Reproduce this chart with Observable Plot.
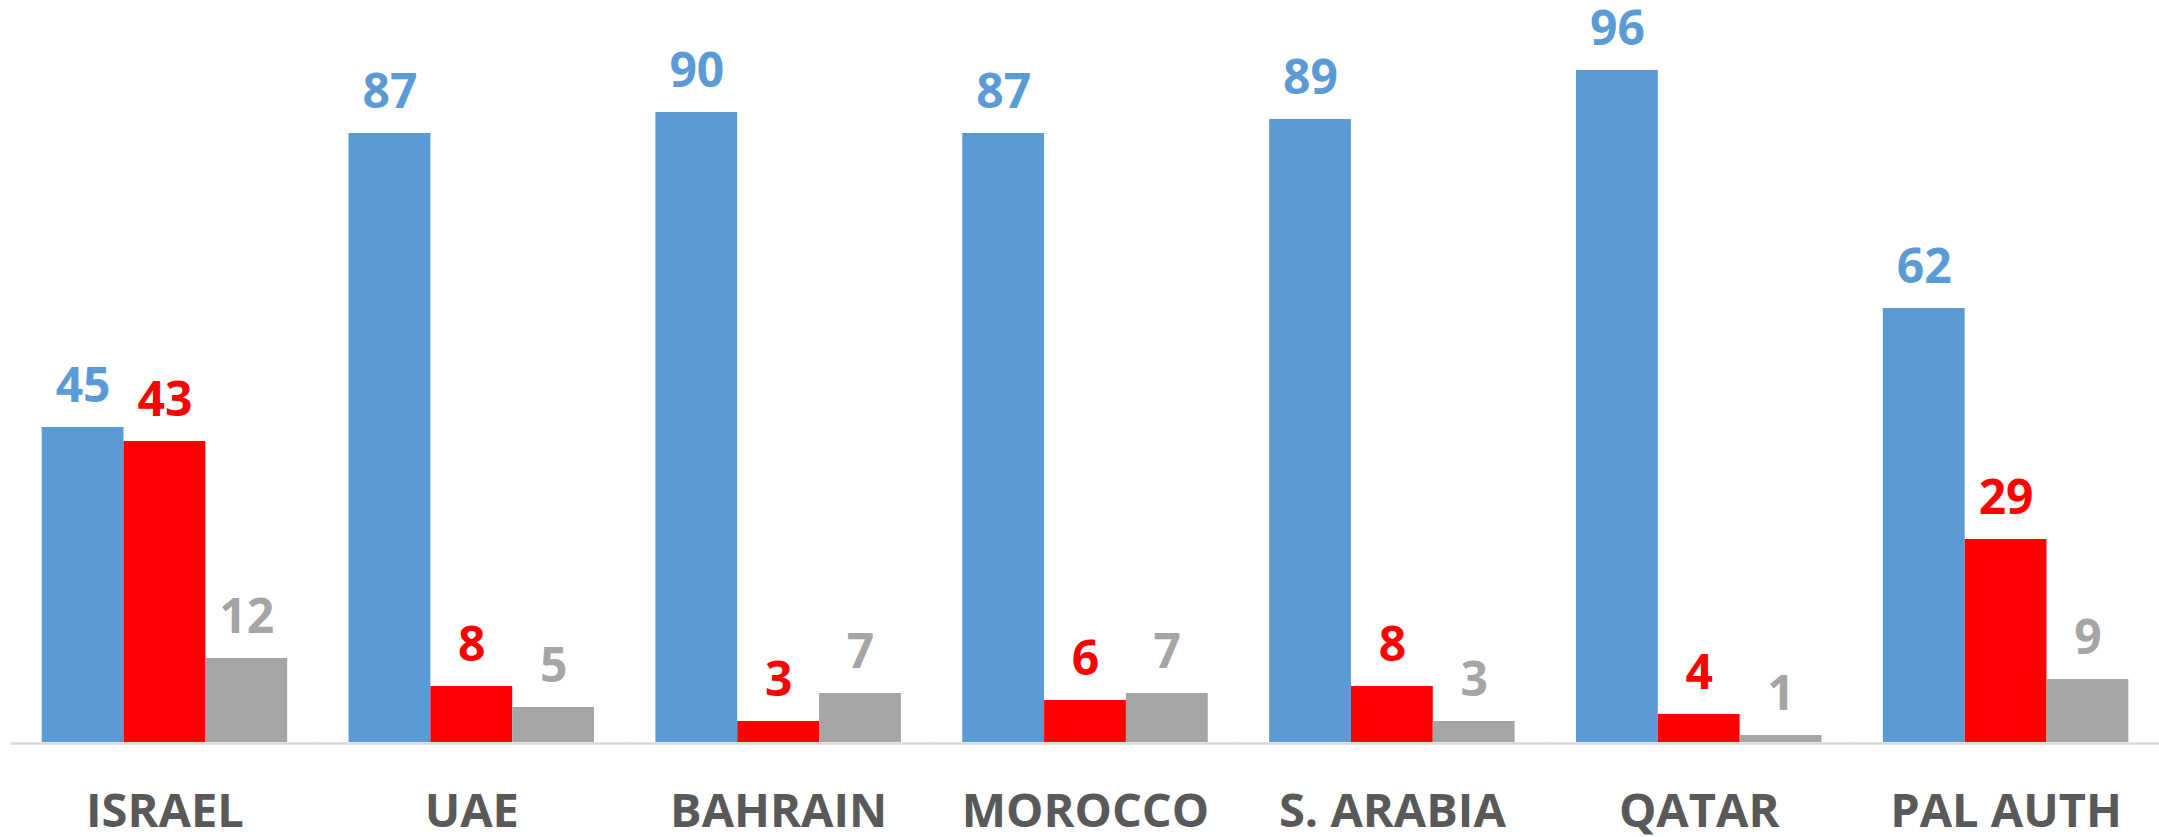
<!DOCTYPE html>
<html><head><meta charset="utf-8">
<script src="https://cdn.jsdelivr.net/npm/d3@7"></script>
<script src="https://cdn.jsdelivr.net/npm/@observablehq/plot@0.6"></script>
<style>html,body{margin:0;padding:0;background:#fff;overflow:hidden}</style>
</head><body><div id="chart"></div>
<script>
const countries = ["ISRAEL", "UAE", "BAHRAIN", "MOROCCO", "S. ARABIA", "QATAR", "PAL AUTH"];
const seriesNames = ["Series 1", "Series 2", "Series 3"];
const series1 = [45, 87, 90, 87, 89, 96, 62];
const series2 = [43, 8, 3, 6, 8, 4, 29];
const series3 = [12, 5, 7, 7, 3, 1, 9];
const colors = ["#5B9BD5", "#FF0000", "#A5A5A5"];

const seriesValues = [series1, series2, series3];
const data = countries.flatMap((c, i) =>
  seriesNames.map((s, j) => ({country: c, series: s, value: seriesValues[j][i]}))
);

const chart = Plot.plot({
  width: 2159,
  height: 837,
  marginTop: 0,
  marginBottom: 95,
  marginLeft: 11,
  marginRight: 0,
  style: {fontFamily: "'Open Sans', sans-serif", fontWeight: "bold", background: "#fff", overflow: "visible"},
  fx: {domain: countries, paddingInner: 0.2, paddingOuter: 0.1, round: false, label: null},
  x: {domain: seriesNames, padding: 0, round: false, axis: null},
  y: {domain: [0, 106], axis: null},
  color: {domain: seriesNames, range: colors},
  marks: [
    Plot.ruleY([0], {stroke: "#D9D9D9", strokeWidth: 2.5, dy: 1, insetLeft: -31, insetRight: -31}),
    Plot.barY(data, {fx: "country", x: "series", y: "value", fill: "series"}),
    Plot.text(data, {fx: "country", x: "series", y: "value", text: d => String(d.value), fill: "series",
      lineAnchor: "bottom", dy: -26, fontSize: 48, fontWeight: 700}),
    Plot.axisFx({anchor: "bottom", tickSize: 0, tickPadding: 51, fontSize: 47, fontWeight: 700, color: "#595959", label: null})
  ]
});
document.getElementById("chart").appendChild(chart);
</script>
</body></html>
